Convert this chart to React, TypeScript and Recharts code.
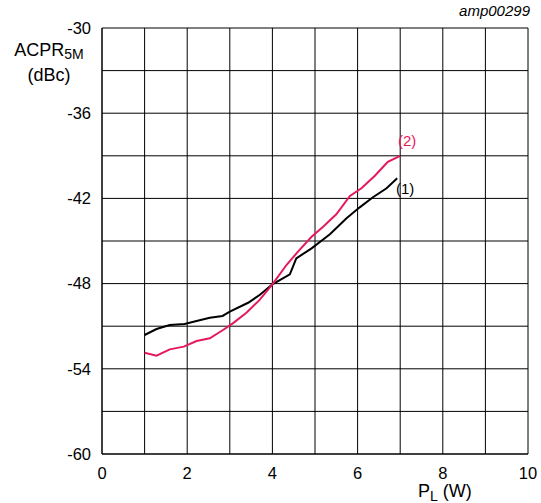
import React from "react";
import { LineChart, Line, XAxis, YAxis, CartesianGrid } from "recharts";

const xTicks = [0, 1, 2, 3, 4, 5, 6, 7, 8, 9, 10];
const yTicks = [-60, -57, -54, -51, -48, -45, -42, -39, -36, -33, -30];

const series1X = [1.0, 1.28, 1.59, 1.94, 2.22, 2.53, 2.83, 3.0, 3.43, 3.7, 4.0, 4.41, 4.56, 4.92, 5.35, 5.74, 6.05, 6.36, 6.68, 6.93];
const series1Y = [-51.62, -51.2, -50.92, -50.85, -50.63, -50.4, -50.28, -49.98, -49.35, -48.8, -48.05, -47.35, -46.22, -45.52, -44.53, -43.4, -42.63, -41.92, -41.29, -40.58];

const series2X = [1.0, 1.28, 1.59, 1.92, 2.22, 2.53, 2.84, 3.07, 3.39, 3.7, 4.0, 4.33, 4.6, 4.92, 5.19, 5.5, 5.82, 6.09, 6.4, 6.71, 7.0];
const series2Y = [-52.87, -53.08, -52.63, -52.44, -52.04, -51.85, -51.27, -50.8, -50.05, -49.15, -48.05, -46.69, -45.75, -44.7, -43.99, -43.12, -41.83, -41.29, -40.42, -39.42, -39.0];

const data1 = series1X.map((x, i) => ({ x, y: series1Y[i] }));
const data2 = series2X.map((x, i) => ({ x, y: series2Y[i] }));

const FONT = "'Liberation Sans', Arial, sans-serif";
const RED = "#e5195e";

export default function App() {
  return (
    <div style={{ position: "absolute", left: 0, top: 0, width: 541, height: 503, background: "#fff", fontFamily: FONT }}>
      <LineChart width={541} height={503} margin={{ top: 28, right: 13, bottom: 19, left: 0 }}>
        <CartesianGrid stroke="#000" strokeWidth={1} />
        <XAxis
          type="number"
          dataKey="x"
          domain={[0, 10]}
          ticks={xTicks}
          tickFormatter={(v: number) => (v % 2 === 0 ? String(v) : "")}
          tickLine={false}
          tickSize={0}
          tickMargin={13}
          height={30}
          axisLine={{ stroke: "#000" }}
          tick={{ fill: "#000", fontSize: 16.5, fontFamily: FONT }}
          allowDataOverflow
        />
        <YAxis
          type="number"
          domain={[-60, -30]}
          ticks={yTicks}
          tickFormatter={(v: number) => (v % 6 === 0 ? String(v) : "")}
          tickLine={false}
          tickSize={0}
          tickMargin={11}
          width={102}
          axisLine={{ stroke: "#000" }}
          tick={{ fill: "#000", fontSize: 16.5, fontFamily: FONT }}
          allowDataOverflow
        />
        <Line data={data1} dataKey="y" type="linear" stroke="#000" strokeWidth={2} dot={false} isAnimationActive={false} />
        <Line data={data2} dataKey="y" type="linear" stroke={RED} strokeWidth={2} dot={false} isAnimationActive={false} />
      </LineChart>
      <div style={{ position: "absolute", right: 11, top: 2, fontSize: 15, fontStyle: "italic", color: "#000" }}>amp00299</div>
      <div style={{ position: "absolute", left: 0, top: 40, width: 98, textAlign: "center", fontSize: 18, lineHeight: "21px", color: "#000" }}>
        <div>ACPR<sub style={{ fontSize: 14, verticalAlign: "-3px" }}>5M</sub></div>
        <div>(dBc)</div>
      </div>
      <div style={{ position: "absolute", left: 418, top: 481, fontSize: 18, lineHeight: "20px", color: "#000", whiteSpace: "nowrap" }}>
        P<sub style={{ fontSize: 14, verticalAlign: "-4px", lineHeight: "14px" }}>L</sub> (W)
      </div>
      <div style={{ position: "absolute", left: 398, top: 132, fontSize: 15, color: RED }}>(2)</div>
      <div style={{ position: "absolute", left: 396, top: 180, fontSize: 15, color: "#000" }}>(1)</div>
    </div>
  );
}
